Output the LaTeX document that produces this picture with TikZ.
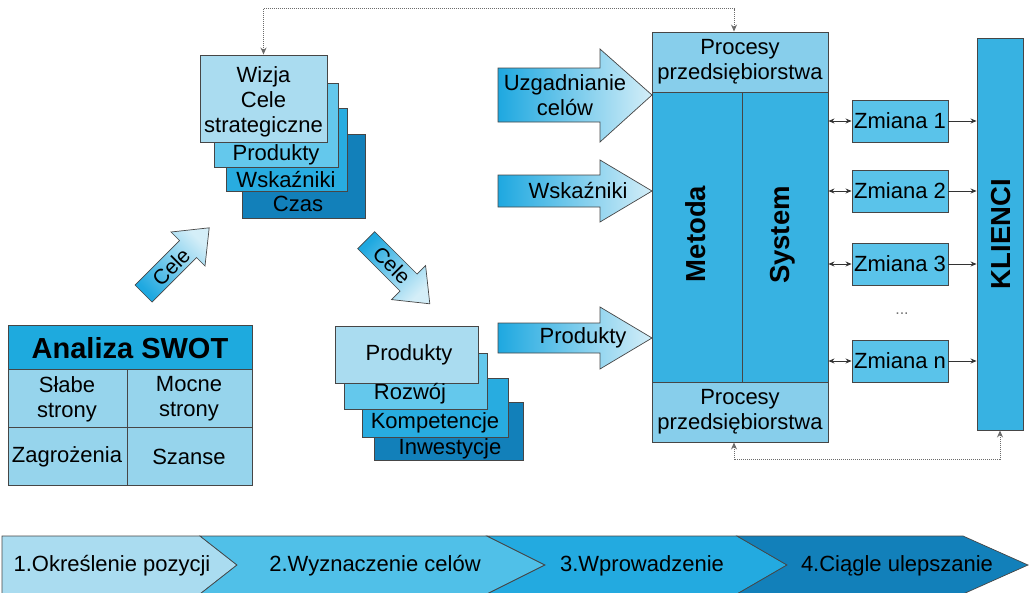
\documentclass[tikz,border=0pt]{standalone}
\usepackage{fontspec}
\setmainfont{Liberation Sans}
\usetikzlibrary{calc,arrows.meta}

\definecolor{cLight}{RGB}{170,220,240}
\definecolor{cSoft}{RGB}{100,200,236}
\definecolor{cBright}{RGB}{40,172,224}
\definecolor{cDeep}{RGB}{18,128,186}
\definecolor{cCell}{RGB}{150,212,236}
\definecolor{cHead}{RGB}{30,170,222}
\definecolor{cProc}{RGB}{135,206,235}
\definecolor{cCore}{RGB}{55,178,226}
\definecolor{cChange}{RGB}{90,195,234}
\definecolor{cEdge}{RGB}{70,70,70}
\definecolor{cArrowL}{RGB}{30,168,224}
\definecolor{cArrowR}{RGB}{212,238,248}
\definecolor{cSegA}{RGB}{170,220,240}
\definecolor{cSegB}{RGB}{80,192,232}
\definecolor{cSegC}{RGB}{35,170,224}
\definecolor{cSegD}{RGB}{18,128,186}

\tikzset{
  card/.style={draw=cEdge, line width=0.9pt, inner sep=0pt},
  txt/.style={font=\fontsize{22}{25}\selectfont, align=center, inner sep=0pt, text=black},
  bigtxt/.style={font=\fontsize{27.5}{30}\selectfont\bfseries, inner sep=0pt, text=black},
  blockarrow/.style={draw=cEdge, line width=0.7pt, left color=cArrowL, right color=cArrowR},
  loopline/.style={draw=cEdge!80, line width=1pt, densely dotted,
    {Stealth[length=7pt,width=6pt]}-{Stealth[length=7pt,width=6pt]}},
  link/.style={draw=black!80, line width=0.8pt},
  segment/.style={draw=cEdge, line width=0.7pt},
}

\begin{document}
\begin{tikzpicture}[x=1pt,y=-1pt]
\useasboundingbox (0,0) rectangle (1030,592);
\clip (0,0) rectangle (1030,592);

% ---- strategy stack (drawn back to front) ----
\node[card, fill=cDeep,   minimum width=123pt, minimum height=84pt] (czas)  at (303.5,176) {};
\node[card, fill=cBright, minimum width=121pt, minimum height=83pt] (wsk)   at (286.5,149.5) {};
\node[card, fill=cSoft,   minimum width=124pt, minimum height=84pt] (prodA) at (276,125) {};
\node[card, fill=cLight,  minimum width=127pt, minimum height=87pt] (wizja) at (263.5,98.5) {};
\node[txt] (tWizja) at (263.5,102) {Wizja\\Cele\\strategiczne};
\node[txt] (tProdA) at (276,155) {Produkty};
\node[txt] (tWsk)   at (286,180) {Wskaźniki};
\node[txt] (tCzas)  at (298,204) {Czas};

% ---- product stack (drawn back to front) ----
\node[card, fill=cDeep,   minimum width=149pt, minimum height=58pt] (inw)   at (448.5,431) {};
\node[card, fill=cBright, minimum width=146pt, minimum height=59pt] (komp)  at (435,407.5) {};
\node[card, fill=cSoft,   minimum width=143pt, minimum height=56pt] (rozw)  at (415.5,381) {};
\node[card, fill=cLight,  minimum width=143pt, minimum height=57pt] (prodB) at (406.5,354.5) {};
\node[txt] (tProdB) at (409,355) {Produkty};
\node[txt] (tRozw)  at (410,394) {Rozwój};
\node[txt] (tKomp)  at (435,423) {Kompetencje};
\node[txt] (tInw)   at (450,449) {Inwestycje};

% ---- SWOT table ----
\node[card, fill=cHead, minimum width=244pt, minimum height=44pt] (swot) at (130,347) {};
\node[card, fill=cCell, minimum width=119pt, minimum height=58pt] (weak)   at (67.5,398) {};
\node[card, fill=cCell, minimum width=125pt, minimum height=58pt] (strong) at (189.5,398) {};
\node[card, fill=cCell, minimum width=119pt, minimum height=58pt] (threat) at (67.5,456) {};
\node[card, fill=cCell, minimum width=125pt, minimum height=58pt] (chance) at (189.5,456) {};
\node[font=\fontsize{29}{32}\selectfont\bfseries, inner sep=0pt] (tSwot) at (130,348) {Analiza SWOT};
\node[txt] (tWeak)   at (67,399)  {Słabe\\strony};
\node[txt] (tStrong) at (189,399) {Mocne\\strony};
\node[txt] (tThreat) at (67,457)  {Zagrożenia};
\node[txt] (tChance) at (189,457) {Szanse};

% ---- diagonal "Cele" arrows ----
\path[draw=cEdge, line width=0.7pt, left color=cArrowL, right color=cArrowR, shading angle=135]
  (135.0,285.0) -- (179.5,240.5) -- (171.0,232.0) -- (209.2,227.8)
  -- (205.0,266.0) -- (196.5,257.5) -- (152.0,302.0) -- cycle;
\node[txt, font=\fontsize{21}{24}\selectfont, rotate=45] (tCeleUp) at (171,267) {Cele};

\path[draw=cEdge, line width=0.7pt, left color=cArrowL, right color=cArrowR, shading angle=45]
  (357.7,248.7) -- (400.1,291.1) -- (391.6,299.6) -- (429.8,303.8)
  -- (425.6,265.6) -- (417.1,274.1) -- (374.7,231.7) -- cycle;
\node[txt, font=\fontsize{21}{24}\selectfont, rotate=-45] (tCeleDown) at (392,265) {Cele};

% ---- horizontal block arrows ----
\path[blockarrow] (498,68) -- (600,68) -- (600,49) -- (652,95) -- (600,142) -- (600,122) -- (498,122) -- cycle;
\node[txt] (tUzg) at (565,95) {Uzgadnianie\\celów};
\path[blockarrow] (498,175) -- (600,175) -- (600,160) -- (652,191) -- (600,222) -- (600,207) -- (498,207) -- cycle;
\node[txt] (tWskArrow) at (578,191) {Wskaźniki};
\path[blockarrow] (498,323) -- (600,323) -- (600,307) -- (652,338) -- (600,369) -- (600,353) -- (498,353) -- cycle;
\node[txt] (tProdArrow) at (583,338) {Produkty};

% ---- core block ----
\node[card, fill=cProc, minimum width=176pt, minimum height=60pt]  (ptop)   at (740,62) {};
\node[card, fill=cCore, minimum width=90pt,  minimum height=290pt] (metoda) at (697,237) {};
\node[card, fill=cCore, minimum width=86pt,  minimum height=290pt] (system) at (785,237) {};
\node[card, fill=cProc, minimum width=176pt, minimum height=60pt]  (pbot)   at (740,412) {};
\node[txt] (tPtop) at (740,62) {Procesy\\przedsiębiorstwa};
\node[txt] (tPbot) at (740,412) {Procesy\\przedsiębiorstwa};
\node[bigtxt, rotate=90] (tMetoda) at (696,234) {Metoda};
\node[bigtxt, rotate=90] (tSystem) at (783,235) {System};

% ---- changes and clients ----
\node[card, fill=cChange, minimum width=96pt, minimum height=42pt, txt] (zm1) at (900,121) {Zmiana 1};
\node[card, fill=cChange, minimum width=96pt, minimum height=42pt, txt] (zm2) at (900,191) {Zmiana 2};
\node[card, fill=cChange, minimum width=96pt, minimum height=42pt, txt] (zm3) at (900,264) {Zmiana 3};
\node[card, fill=cChange, minimum width=96pt, minimum height=42pt, txt] (zmn) at (900,361) {Zmiana n};
\node[txt, text=black!55, font=\fontsize{16}{18}\selectfont] (dots) at (902,314) {...};
\node[card, fill=cCore, minimum width=46pt, minimum height=392pt] (klienci) at (1000,234) {};
\node[bigtxt, rotate=90] (tKlienci) at (1001,234) {KLIENCI};

\foreach \z in {zm1,zm2,zm3,zmn}{
  \draw[link, {Stealth[length=6pt,width=5pt]}-{Stealth[length=6pt,width=5pt]}]
    (\z.west -| system.east) -- (\z.west);
  \draw[link, -{Stealth[length=6pt,width=5pt]}] (\z.east) -- (\z.east -| klienci.west);
}

% ---- feedback loops ----
\draw[loopline] (wizja.north) -- ++(0,-46) -| ([xshift=-6pt]ptop.north);
\draw[loopline] ([xshift=-6pt]pbot.south) -- ++(0,17) -| (klienci.south);

% ---- phase band ----
\path[segment, fill=cSegA] (2,536) -- (200,536) -- (237,565) -- (200,594) -- (2,594) -- cycle;
\path[segment, fill=cSegB] (200,536) -- (487,536) -- (545,565) -- (487,594) -- (200,594) -- (237,565) -- cycle;
\path[segment, fill=cSegC] (487,536) -- (737,536) -- (787,565) -- (737,594) -- (487,594) -- (545,565) -- cycle;
\path[segment, fill=cSegD] (737,536) -- (963,536) -- (1028,565) -- (963,594) -- (737,594) -- (787,565) -- cycle;
\node[txt] (ph1) at (112,566) {1.Określenie pozycji};
\node[txt] (ph2) at (375,566) {2.Wyznaczenie celów};
\node[txt] (ph3) at (642,566) {3.Wprowadzenie};
\node[txt] (ph4) at (897,566) {4.Ciągle ulepszanie};
\end{tikzpicture}
\end{document}
